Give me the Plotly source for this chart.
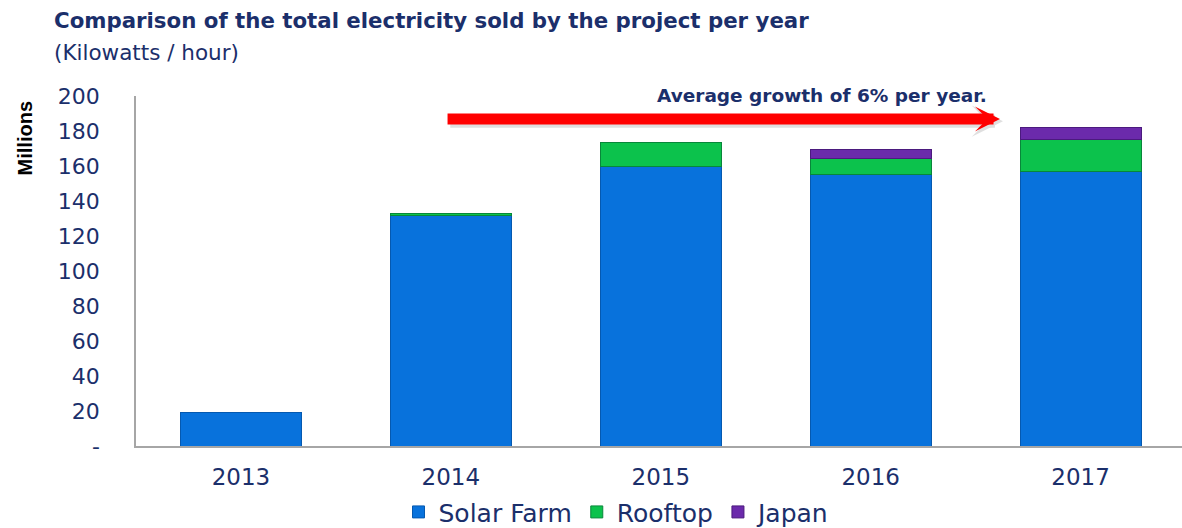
import plotly.graph_objects as go

years = ["2013", "2014", "2015", "2016", "2017"]
solar_farm = [18.9, 131.8, 159.5, 155.0, 157.1]
rooftop = [None, 0.8, 13.8, 9.5, 17.8]
japan = [None, None, None, 4.7, 7.2]
y_tickvals = [0, 20, 40, 60, 80, 100, 120, 140, 160, 180, 200]
y_ticktext = ["-", "20", "40", "60", "80", "100", "120", "140", "160", "180", "200"]

NAVY = "#1b2f6b"
W, H = 1182, 528
L, T, B = 136, 95.5, 82
PW, PH = W - L, H - T - B


def px(xp):
    return (xp - L) / PW


def py(yp):
    return (H - B - yp) / PH


fig = go.Figure()
series = [
    ("Solar Farm", solar_farm, "#0872dc", "#0559b0"),
    ("Rooftop", rooftop, "#0cc24c", "#08873a"),
    ("Japan", japan, "#6b2aab", "#4b1a7e"),
]
for name, vals, col, edge in series:
    fig.add_trace(go.Bar(
        x=years, y=vals, name=name, width=0.576,
        marker=dict(color=col, line=dict(color=edge, width=1)),
    ))

fig.update_layout(
    barmode="stack",
    width=W, height=H,
    margin=dict(l=L, r=0, t=T, b=B, pad=0, autoexpand=False),
    paper_bgcolor="white", plot_bgcolor="white",
    font=dict(family="DejaVu Sans, Verdana, sans-serif", color=NAVY),
    showlegend=True,
    legend=dict(
        orientation="h", xref="container", yref="container",
        x=0.522, xanchor="center", y=0.03, yanchor="middle",
        font=dict(size=25, color=NAVY), itemwidth=30, traceorder="normal",
        tracegroupgap=0,
    ),
    xaxis=dict(
        type="category", range=[-0.5, 4.483],
        showline=True, linecolor="#a6a6a6", linewidth=1.5,
        ticks="", tickfont=dict(size=23, color=NAVY),
        ticklabelstandoff=10, showgrid=False, zeroline=False,
    ),
    yaxis=dict(
        range=[0, 200], tickvals=y_tickvals, ticktext=y_ticktext,
        showline=True, linecolor="#a6a6a6", linewidth=1.5,
        ticks="", tickfont=dict(size=22, color=NAVY),
        ticklabelstandoff=30, showgrid=False, zeroline=False,
    ),
)

# arrow (tip near 2017, tail over 2014) with a faint shadow
fig.add_annotation(
    x=3.63, y=185.6, ax=0.99, ay=185.6,
    xref="x", yref="y", axref="x", ayref="y",
    showarrow=True, arrowhead=3, arrowsize=0.4, arrowwidth=13,
    arrowcolor="rgba(0,0,0,0.12)", text="", standoff=0,
)
fig.add_annotation(
    x=3.616, y=186.9, ax=0.977, ay=186.9,
    xref="x", yref="y", axref="x", ayref="y",
    showarrow=True, arrowhead=3, arrowsize=0.38, arrowwidth=11,
    arrowcolor="#ff0000", text="", standoff=0,
)
fig.add_annotation(
    x=px(822), y=py(95), xref="paper", yref="paper",
    text="<b>Average growth of 6% per year.</b>", showarrow=False,
    font=dict(size=18.5, color=NAVY), xanchor="center", yanchor="middle",
)

# titles
fig.add_annotation(
    x=px(52), y=py(20), xref="paper", yref="paper",
    text="<b>Comparison of the total electricity sold by the project per year</b>",
    showarrow=False, xanchor="left", yanchor="middle",
    font=dict(size=21.3, color=NAVY),
)
fig.add_annotation(
    x=px(52), y=py(52), xref="paper", yref="paper",
    text="(Kilowatts / hour)", showarrow=False, xanchor="left", yanchor="middle",
    font=dict(size=21.5, color=NAVY),
)
fig.add_annotation(
    x=px(25), y=py(138), xref="paper", yref="paper",
    text="<b>Millions</b>", textangle=-90, showarrow=False,
    xanchor="center", yanchor="middle",
    font=dict(size=20, color="black", family="Liberation Sans Narrow, Liberation Sans, sans-serif"),
)

fig.write_html("out.html")
